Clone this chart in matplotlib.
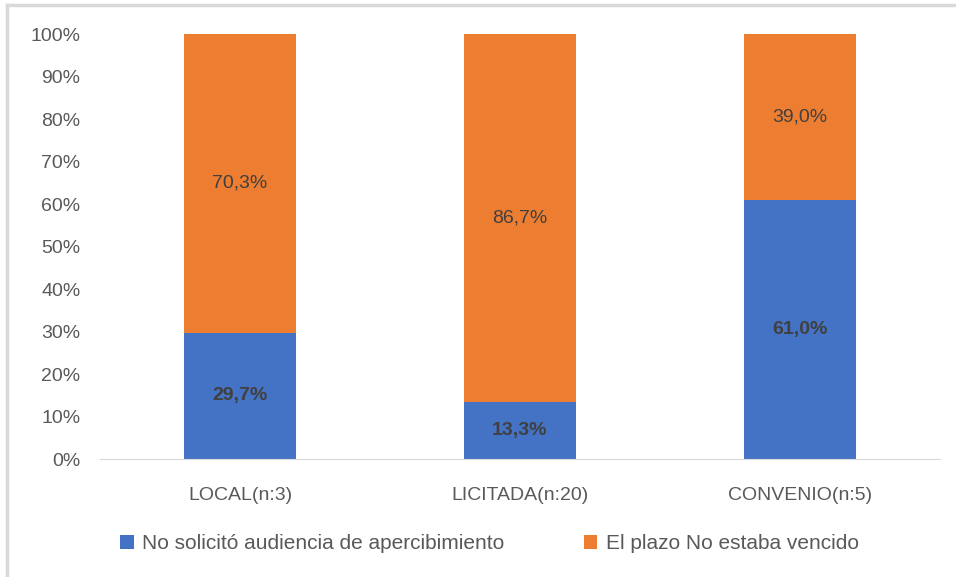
import matplotlib.pyplot as plt
from matplotlib.lines import Line2D
from matplotlib.ticker import PercentFormatter

categories = ['LOCAL(n:3)', 'LICITADA(n:20)', 'CONVENIO(n:5)']
no_solicito = [29.7, 13.3, 61.0]
plazo_no_vencido = [70.3, 86.7, 39.0]
series_names = ['No solicitó audiencia de apercibimiento', 'El plazo No estaba vencido']

blue = '#4472C4'
orange = '#ED7D31'
txt = '#595959'

plt.rcParams['font.family'] = ['Liberation Sans', 'DejaVu Sans']

fig = plt.figure(figsize=(9.56, 5.77), dpi=100)
ax = fig.add_axes([0.1046, 0.2045, 0.8784, 0.7365])

x = range(len(categories))
ax.bar(x, no_solicito, width=0.4, color=blue, label=series_names[0])
ax.bar(x, plazo_no_vencido, width=0.4, bottom=no_solicito, color=orange, label=series_names[1])

for i in x:
    b = no_solicito[i]
    o = plazo_no_vencido[i]
    ax.text(i, b / 2, f'{b:.1f}%'.replace('.', ','), ha='center', va='center',
            fontsize=14, fontweight='bold', color='#404040')
    ax.text(i, b + o / 2, f'{o:.1f}%'.replace('.', ','), ha='center', va='center',
            fontsize=14, color='#404040')

ax.set_xlim(-0.5, 2.5)
ax.set_ylim(0, 100)
ax.set_yticks(range(0, 101, 10))
ax.yaxis.set_major_formatter(PercentFormatter(decimals=0))
ax.set_xticks(list(x))
ax.set_xticklabels(categories)
ax.tick_params(axis='both', length=0, labelsize=14, colors=txt)
ax.tick_params(axis='y', pad=14)
ax.tick_params(axis='x', pad=20)
for s in ['top', 'right', 'left']:
    ax.spines[s].set_visible(False)
ax.spines['bottom'].set_color('#D9D9D9')

leg = fig.legend(loc='center', bbox_to_anchor=(0.512, 0.058), ncol=2, frameon=False,
                 fontsize=15, handlelength=0.65, handleheight=0.65, handletextpad=0.4,
                 columnspacing=3.8)
for t in leg.get_texts():
    t.set_color(txt)

# gray frame on top and left edges
fig.add_artist(Line2D([0.0073, 0.0073], [0, 0.991], transform=fig.transFigure, color='#D9D9D9', lw=2.5))
fig.add_artist(Line2D([0.0073, 1], [0.991, 0.991], transform=fig.transFigure, color='#D9D9D9', lw=2.5))

fig.savefig('out.png', dpi=100)
